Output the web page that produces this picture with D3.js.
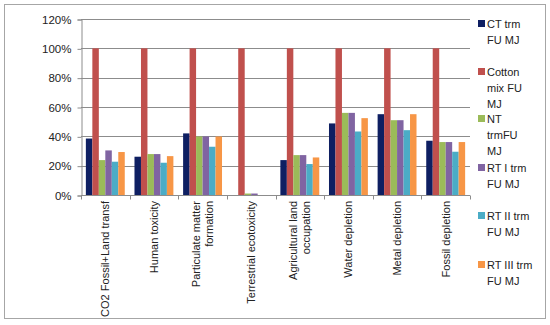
<!DOCTYPE html>
<html lang="en">
<head>
<meta charset="UTF-8">
<script src="https://cdn.jsdelivr.net/npm/d3@7"></script>
<style>
    body { margin: 0; background: #fff; }
    text { font-family: "Liberation Sans", Arial, sans-serif; fill: #222; }
</style>
</head>
<body>
<script>
    /*------------------- data --------------------*/
    const categories = [
        ["CO2 Fossil+Land transf"],
        ["Human toxicity"],
        ["Particulate matter", "formation"],
        ["Terrestrial ecotoxicity"],
        ["Agricultural land", "occupation"],
        ["Water depletion"],
        ["Metal depletion"],
        ["Fossil depletion"]
    ];
    const seriesNames = [
        ["CT trm", "FU MJ"],
        ["Cotton", "mix FU", "MJ"],
        ["NT", "trmFU", "MJ"],
        ["RT I trm", "FU MJ"],
        ["RT II trm", "FU MJ"],
        ["RT III trm", "FU MJ"]
    ];
    const ctTrm     = [38.5, 26.1, 42.0, 0,   23.8, 48.8, 55.1, 37.0];
    const cottonMix = [100,  100,  100,  100, 100,  100,  100,  100];
    const ntTrm     = [23.8, 27.9, 39.9, 1.0, 27.2, 56.0, 51.0, 36.1];
    const rtI       = [30.4, 27.9, 39.9, 1.0, 27.2, 56.0, 51.0, 36.1];
    const rtII      = [22.7, 22.0, 32.9, 0,   21.1, 43.3, 44.2, 29.5];
    const rtIII     = [29.3, 26.5, 39.9, 0,   25.6, 52.4, 55.1, 36.1];
    const seriesValues = [ctTrm, cottonMix, ntTrm, rtI, rtII, rtIII];
    const colors = ["#0e1f62", "#c0504d", "#9bbb59", "#8064a2", "#4bacc6", "#f79646"];
    const yTicks = [0, 20, 40, 60, 80, 100, 120];

    /*------------------- layout --------------------*/
    const W = 550, H = 325;
    const plot = { left: 81, right: 470, top: 19, bottom: 195 };

    const svg = d3.select("body").append("svg")
        .attr("width", W).attr("height", H);

    // outer chart border
    svg.append("rect")
        .attr("x", 4.5).attr("y", 4.5)
        .attr("width", 541).attr("height", 314)
        .attr("fill", "#fff").attr("stroke", "#a6a6a6");

    const x = d3.scaleBand()
        .domain(d3.range(categories.length))
        .range([plot.left, plot.right]);
    const xInner = d3.scaleBand()
        .domain(d3.range(seriesValues.length))
        .range([0, x.bandwidth()])
        .paddingOuter(0.75);
    const y = d3.scaleLinear().domain([0, 120]).range([plot.bottom, plot.top]);

    // gridlines
    svg.append("g").selectAll("line")
        .data(yTicks)
        .join("line")
        .attr("x1", plot.left).attr("x2", plot.right)
        .attr("y1", d => Math.round(y(d)) + 0.5)
        .attr("y2", d => Math.round(y(d)) + 0.5)
        .attr("stroke", "#8c8c8c");

    // y axis
    const yAxis = svg.append("g")
        .attr("transform", `translate(${plot.left + 0.5},0.5)`)
        .call(d3.axisLeft(y).tickValues(yTicks).tickSize(4).tickFormat(d => d + "%"));
    yAxis.select(".domain").attr("stroke", "#8c8c8c");
    yAxis.selectAll(".tick line").attr("stroke", "#8c8c8c");
    yAxis.selectAll("text").attr("x", -10).style("font-size", "11.5px").attr("fill", "#222");

    // bars
    const groups = svg.append("g").selectAll("g")
        .data(categories)
        .join("g")
        .attr("transform", (d, i) => `translate(${x(i)},0)`);

    groups.selectAll("rect")
        .data((d, i) => seriesValues.map((s, j) => ({ j: j, v: s[i] })))
        .join("rect")
        .attr("x", d => xInner(d.j))
        .attr("width", xInner.bandwidth())
        .attr("y", d => y(d.v))
        .attr("height", d => y(0) - y(d.v))
        .attr("fill", d => colors[d.j]);

    // x axis
    const xAxis = svg.append("g")
        .attr("transform", `translate(0,${Math.round(plot.bottom) + 0.5})`);
    xAxis.append("line")
        .attr("x1", plot.left).attr("x2", plot.right)
        .attr("stroke", "#8c8c8c");
    xAxis.selectAll(".tk")
        .data(d3.range(categories.length + 1))
        .join("line")
        .attr("class", "tk")
        .attr("x1", i => Math.round(plot.left + i * x.step()) + 0.5)
        .attr("x2", i => Math.round(plot.left + i * x.step()) + 0.5)
        .attr("y1", 0).attr("y2", 4)
        .attr("stroke", "#8c8c8c");

    // category labels (rotated)
    const lineH = 13;
    categories.forEach((lines, i) => {
        const cx = x(i) + x.bandwidth() / 2;
        const t = svg.append("text")
            .attr("transform", `translate(${cx},${plot.bottom + 6}) rotate(-90)`)
            .attr("text-anchor", "end")
            .style("font-size", "11px");
        lines.forEach((ln, k) => {
            const off = (k - (lines.length - 1) / 2) * lineH + 4;
            t.append("tspan").attr("x", 0).attr("y", off).text(ln);
        });
    });

    // legend
    const legendTops = [27, 75, 122, 171, 219, 268];
    seriesNames.forEach((lines, i) => {
        const g = svg.append("g").attr("transform", `translate(478,${legendTops[i]})`);
        g.append("rect")
            .attr("x", 0).attr("y", -7)
            .attr("width", 7).attr("height", 7)
            .attr("fill", colors[i]);
        lines.forEach((ln, k) => {
            g.append("text")
                .attr("x", 9).attr("y", k * 16 + 1)
                .style("font-size", "11px")
                .text(ln);
        });
    });
</script>
</body>
</html>
